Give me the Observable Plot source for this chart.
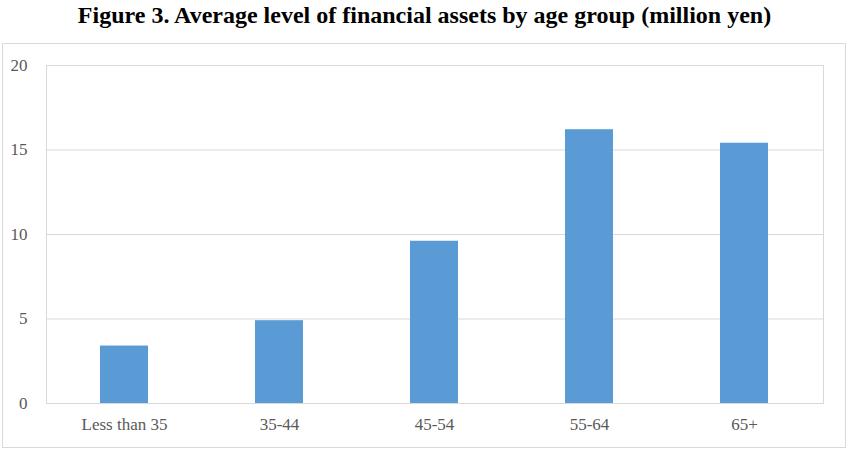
<!DOCTYPE html>
<html>
<head>
<meta charset="utf-8">
<script src="https://cdn.jsdelivr.net/npm/d3@7"></script>
<script src="https://cdn.jsdelivr.net/npm/@observablehq/plot@0.6"></script>
<style>
  html, body { margin: 0; padding: 0; background: #fff; }
  #page { position: relative; width: 849px; height: 452px; overflow: hidden; }
  #title {
    position: absolute; left: 0; top: 1px; width: 849px; text-align: center;
    font-family: "Liberation Serif", "Times New Roman", serif;
    font-weight: bold; font-size: 24px; line-height: 28px; color: #000;
  }
  #box {
    position: absolute; left: 2px; top: 43px; width: 844px; height: 405px;
    border: 1px solid #D9D9D9; box-sizing: border-box;
  }
  #chart { position: absolute; left: 0; top: 43px; }
</style>
</head>
<body>
<div id="page">
  <div id="title">Figure 3. Average level of financial assets by age group (million yen)</div>
  <div id="box"></div>
  <div id="chart"></div>
</div>
<script>
// Average financial assets per household, million yen
const ageGroups = ["Less than 35", "35-44", "45-54", "55-64", "65+"];
const assets = [3.4, 4.9, 9.6, 16.2, 15.4];
const yTicks = [0, 5, 10, 15, 20];

const rows = ageGroups.map((g, i) => ({group: g, value: assets[i]}));

const chart = Plot.plot({
  width: 849,
  height: 409,
  marginTop: 22,
  marginBottom: 49,
  marginLeft: 46,
  marginRight: 26,
  style: {
    fontFamily: "'Liberation Serif', 'Times New Roman', serif",
    fontSize: "17px",
    color: "#595959",
    background: "transparent"
  },
  x: {domain: ageGroups, paddingInner: 0.69, paddingOuter: 0.345, label: null},
  y: {domain: [0, 20], label: null},
  marks: [
    Plot.gridY(yTicks, {stroke: "#D9D9D9", strokeOpacity: 1}),
    Plot.frame({stroke: "#D9D9D9"}),
    Plot.barY(rows, {x: "group", y: "value", fill: "#5B9BD5"}),
    Plot.axisY(yTicks, {tickSize: 0, tickPadding: 19, fontSize: 17, fill: "#595959"}),
    Plot.axisX({tickSize: 0, tickPadding: 14, fontSize: 17, fill: "#595959"})
  ]
});
document.getElementById("chart").appendChild(chart);
</script>
</body>
</html>
